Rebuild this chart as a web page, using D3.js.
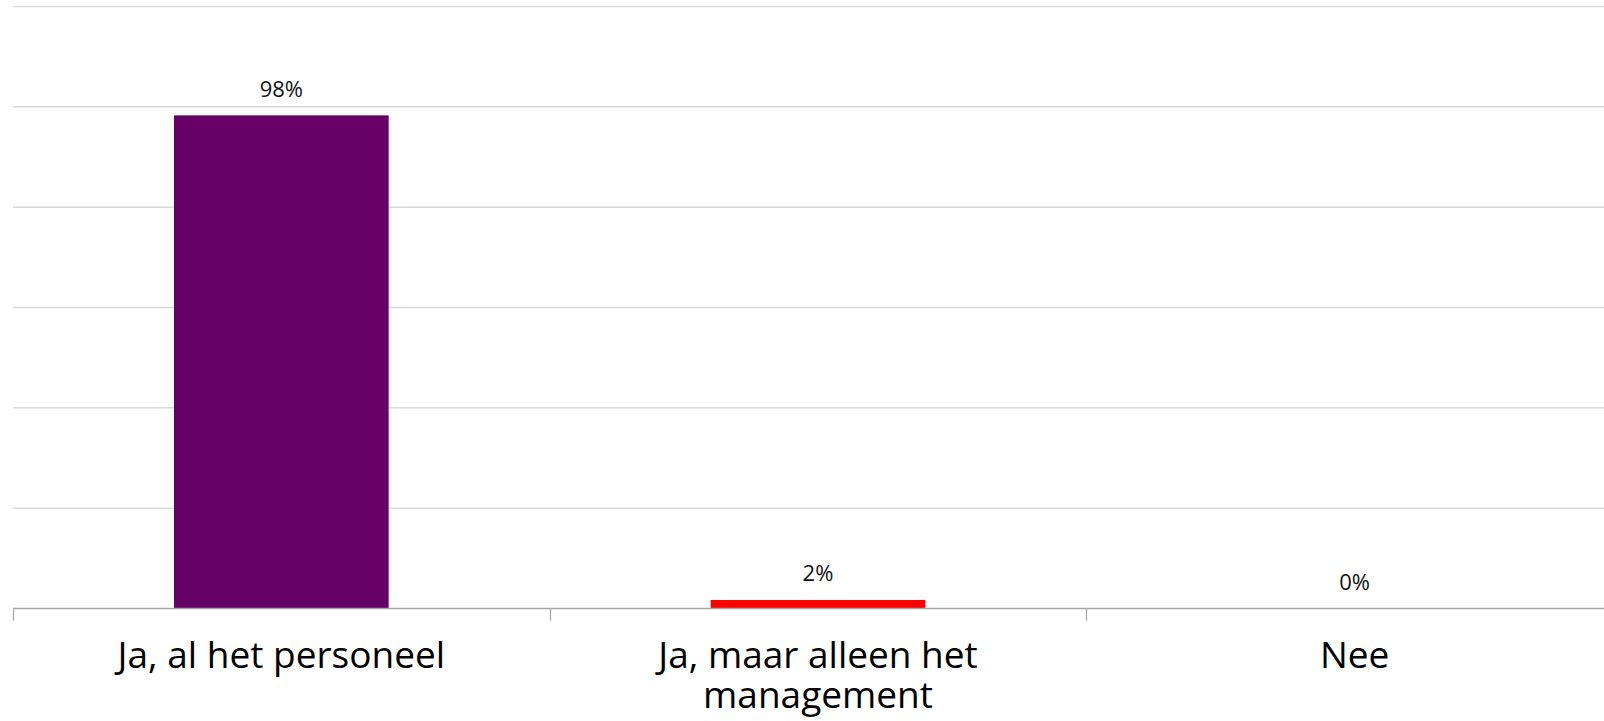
<!DOCTYPE html>
<html>
<head>
<meta charset="utf-8">
<script src="https://cdn.jsdelivr.net/npm/d3@7"></script>
<style>
  html, body { margin: 0; padding: 0; background: #ffffff; overflow: hidden; }
  svg { display: block; }
</style>
</head>
<body>
<svg id="chart" width="1604" height="721"></svg>
<script>
// ---- data ----
const categories = ["Ja, al het personeel", "Ja, maar alleen het management", "Nee"];
const categoryLines = [["Ja, al het personeel"], ["Ja, maar alleen het", "management"], ["Nee"]];
const values = [0.983, 0.017, 0.0];
const valueLabels = ["98%", "2%", "0%"];
const barColors = ["#660066", "#ff0000", "#7f7f7f"];
const yTicks = [0, 0.2, 0.4, 0.6, 0.8, 1.0, 1.2];

(function () {
  // ---- layout ----
  const W = 1604;
  const plotLeft = 13, plotRight = 1623, plotTop = 6.5, plotBottom = 608.5;
  const svg = d3.select("#chart");

  const xCat = d3.scaleBand().domain(categories).range([plotLeft, plotRight]).padding(0);
  const step = xCat.step();
  const y = d3.scaleLinear().domain([0, 1.2]).range([plotBottom, plotTop]);

  // gridlines
  svg.append("g").selectAll("line")
    .data(yTicks.filter(t => t > 0))
    .join("line")
    .attr("x1", plotLeft).attr("x2", W + 20)
    .attr("y1", d => y(d)).attr("y2", d => y(d))
    .attr("stroke", "#d9d9d9").attr("stroke-width", 1.5);

  // bars
  svg.append("g").selectAll("rect")
    .data(values)
    .join("rect")
    .attr("x", (d, i) => xCat(categories[i]) + step * 0.3)
    .attr("width", step * 0.4)
    .attr("y", d => y(d))
    .attr("height", d => plotBottom - y(d))
    .attr("fill", (d, i) => barColors[i]);

  // x axis line and ticks at band boundaries
  svg.append("line")
    .attr("x1", plotLeft).attr("x2", W + 20)
    .attr("y1", plotBottom).attr("y2", plotBottom)
    .attr("stroke", "#a6a6a6").attr("stroke-width", 1.5);
  const bounds = categories.map(c => xCat(c)).concat([xCat(categories[categories.length - 1]) + step]);
  svg.append("g").selectAll("line")
    .data(bounds)
    .join("line")
    .attr("x1", d => Math.round(d) + 0.5).attr("x2", d => Math.round(d) + 0.5)
    .attr("y1", plotBottom).attr("y2", plotBottom + 12)
    .attr("stroke", "#a6a6a6").attr("stroke-width", 1.2);

  // value labels
  svg.append("g").selectAll("text")
    .data(values)
    .join("text")
    .attr("x", (d, i) => xCat(categories[i]) + step / 2)
    .attr("y", d => y(d) - 18.5)
    .attr("text-anchor", "middle")
    .attr("font-family", "'Open Sans', sans-serif")
    .attr("font-size", 22)
    .attr("fill", "#111")
    .text((d, i) => valueLabels[i]);

  // category labels
  const catG = svg.append("g").selectAll("text")
    .data(categories)
    .join("text")
    .attr("x", d => xCat(d) + step / 2)
    .attr("y", 668)
    .attr("text-anchor", "middle")
    .attr("font-family", "'Open Sans', sans-serif")
    .attr("font-size", 37)
    .attr("fill", "#000");
  catG.each(function (d, i) {
    const t = d3.select(this);
    categoryLines[i].forEach((ln, j) => {
      t.append("tspan")
        .attr("x", xCat(d) + step / 2)
        .attr("dy", j === 0 ? 0 : 40)
        .text(ln);
    });
  });
})();
</script>
</body>
</html>
